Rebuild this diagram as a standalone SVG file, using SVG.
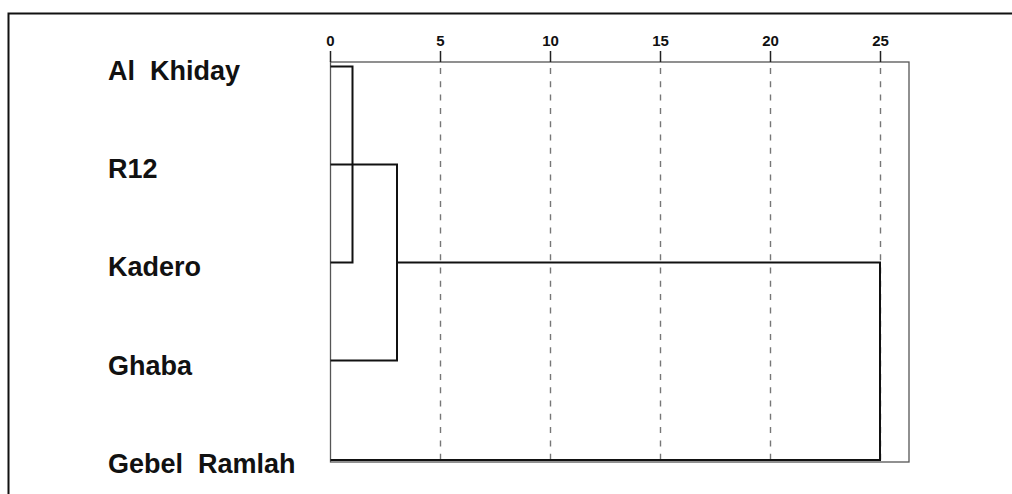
<svg xmlns="http://www.w3.org/2000/svg" width="1012" height="494" viewBox="0 0 1012 494">
  <style>
    .frame { fill: none; stroke: #111; stroke-width: 2; }
    .box { fill: none; stroke: #555; stroke-width: 1.3; }
    .tick { stroke: #222; stroke-width: 1.5; }
    .grid { stroke: #777; stroke-width: 1.4; stroke-dasharray: 6 7.3; }
    .link { fill: none; stroke: #111; stroke-width: 2; }
    .axis-label { font-family: "Liberation Sans", Arial, sans-serif; font-weight: bold; font-size: 15px; fill: #111; text-anchor: middle; }
    .leaf { font-family: "Liberation Sans", Arial, sans-serif; font-weight: bold; font-size: 27px; fill: #111; white-space: pre; }
  </style>
  <rect width="1012" height="494" fill="#fff"/>

  <!-- outer frame (top and left edges) -->
  <path class="frame" d="M8.5,494 V13.5 H1012"/>

  <!-- plot box and axis -->
  <g id="axis">
    <rect class="box" x="330.5" y="62" width="578.5" height="400"/>
    <line class="tick" x1="330.5" y1="51" x2="330.5" y2="62"/>
    <line class="tick" x1="440.5" y1="51" x2="440.5" y2="62"/>
    <line class="tick" x1="550.5" y1="51" x2="550.5" y2="62"/>
    <line class="tick" x1="660.5" y1="51" x2="660.5" y2="62"/>
    <line class="tick" x1="770.5" y1="51" x2="770.5" y2="62"/>
    <line class="tick" x1="880.5" y1="51" x2="880.5" y2="62"/>
    <line class="grid" x1="440.5" y1="68" x2="440.5" y2="462"/>
    <line class="grid" x1="550.5" y1="68" x2="550.5" y2="462"/>
    <line class="grid" x1="660.5" y1="68" x2="660.5" y2="462"/>
    <line class="grid" x1="770.5" y1="68" x2="770.5" y2="462"/>
    <line class="grid" x1="880.5" y1="68" x2="880.5" y2="462"/>
    <text class="axis-label" x="330.5" y="46">0</text>
    <text class="axis-label" x="440.5" y="46">5</text>
    <text class="axis-label" x="550.5" y="46">10</text>
    <text class="axis-label" x="660.5" y="46">15</text>
    <text class="axis-label" x="770.5" y="46">20</text>
    <text class="axis-label" x="880.5" y="46">25</text>
  </g>

  <!-- leaves -->
  <g id="leaf-al-khiday"><text class="leaf" x="108" y="80">Al  Khiday</text></g>
  <g id="leaf-r12"><text class="leaf" x="108" y="177.5">R12</text></g>
  <g id="leaf-kadero"><text class="leaf" x="108" y="276">Kadero</text></g>
  <g id="leaf-ghaba"><text class="leaf" x="108" y="374.5">Ghaba</text></g>
  <g id="leaf-gebel-ramlah"><text class="leaf" x="108" y="472.5">Gebel  Ramlah</text></g>

  <!-- dendrogram links -->
  <g id="links">
    <path class="link" d="M330.5,66.5 H352.5 V262.5 H330.5"/>
    <path class="link" d="M330.5,164.5 H397 V360.5 H330.5"/>
    <path class="link" d="M397,262.5 H880 V460 H330.5"/>
  </g>
</svg>
